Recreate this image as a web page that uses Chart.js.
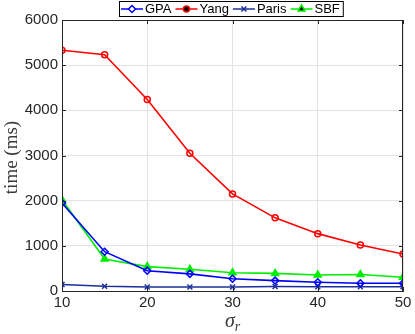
<!DOCTYPE html>
<html>
<head>
<meta charset="utf-8">
<script src="https://cdn.jsdelivr.net/npm/chart.js@4"></script>
<style>
  html, body { margin: 0; padding: 0; background: #fff; }
  #wrap { width: 415px; height: 334px; }
</style>
</head>
<body>
<div id="wrap"><canvas id="chart" width="415" height="334"></canvas></div>
<script>
const sigma = [10, 15, 20, 25, 30, 35, 40, 45, 50];
const gpa   = [1950, 870, 450, 380, 270, 230, 195, 170, 170];
const yang  = [5330, 5230, 4240, 3050, 2150, 1620, 1270, 1020, 820];
const paris = [145, 105, 90, 90, 90, 100, 95, 95, 95];
const sbf   = [2020, 710, 540, 480, 405, 390, 355, 365, 305];
const yTicks = [0, 1000, 2000, 3000, 4000, 5000, 6000];
const xTicks = [10, 20, 30, 40, 50];

const axisColor = "#262626";
const toPoints = (vals) => vals.map((v, i) => ({ x: sigma[i], y: v }));

const series = [
	{ label: "GPA", data: gpa, color: "#0000ff", style: "rectRot", radius: 3.5, fill: false },
	{ label: "Yang", data: yang, color: "#ff0000", style: "circle", radius: 3, fill: false },
	{ label: "Paris", data: paris, color: "#1c2f9c", style: "crossRot", radius: 3.5, fill: false },
	{ label: "SBF", data: sbf, color: "#00ee00", style: "triangle", radius: 4, fill: true },
];

// frame, inward ticks, axis labels and the legend box
const decorations = {
	id: "decorations",
	afterDraw(chart) {
		const ctx = chart.ctx;
		const a = chart.chartArea;
		const xs = chart.scales.x, ys = chart.scales.y;
		ctx.save();
		ctx.strokeStyle = axisColor;
		ctx.lineWidth = 1;
		ctx.strokeRect(a.left + 0.5, a.top + 0.5, a.right - a.left - 1, a.bottom - a.top);
		ctx.beginPath();
		yTicks.forEach((t) => {
			const y = Math.round(ys.getPixelForValue(t)) + 0.5;
			ctx.moveTo(a.left, y); ctx.lineTo(a.left + 4, y);
			ctx.moveTo(a.right, y); ctx.lineTo(a.right - 4, y);
		});
		xTicks.forEach((t) => {
			const x = Math.round(xs.getPixelForValue(t)) + 0.5;
			ctx.moveTo(x, a.bottom); ctx.lineTo(x, a.bottom - 4);
			ctx.moveTo(x, a.top); ctx.lineTo(x, a.top + 4);
		});
		ctx.stroke();

		// y title
		ctx.fillStyle = "#3a3a3a";
		ctx.font = "19px 'Liberation Serif'";
		ctx.textAlign = "center";
		ctx.textBaseline = "middle";
		ctx.translate(12, (a.top + a.bottom) / 2 + 2);
		ctx.rotate(-Math.PI / 2);
		ctx.fillText("time (ms)", 0, 0);
		ctx.setTransform(1, 0, 0, 1, 0, 0);

		// x title: sigma with subscript r
		ctx.textAlign = "left";
		ctx.textBaseline = "alphabetic";
		ctx.font = "italic 20px 'Liberation Serif'";
		ctx.fillText("σ", 225, 327);
		const sw = ctx.measureText("σ").width;
		ctx.font = "italic 14px 'Liberation Serif'";
		ctx.fillText("r", 225 + sw, 331);

		// legend
		ctx.font = "13px 'Liberation Sans'";
		ctx.textBaseline = "middle";
		const lineLen = 22, boxL = 119, boxT = 1, boxH = 15;
		let x = boxL + 2;
		const cy = boxT + boxH / 2 + 0.5;
		const entries = [];
		chart.data.datasets.forEach((ds) => {
			entries.push({ ds, x });
			x += lineLen + 2 + ctx.measureText(ds.label).width + 4;
		});
		ctx.fillStyle = "#fff";
		ctx.fillRect(boxL, boxT, x - boxL, boxH);
		ctx.strokeStyle = "#000";
		ctx.strokeRect(boxL + 0.5, boxT + 0.5, x - boxL - 1, boxH);
		entries.forEach(({ ds, x }) => {
			ctx.strokeStyle = ds.borderColor;
			ctx.lineWidth = 1.5;
			ctx.beginPath();
			ctx.moveTo(x, cy); ctx.lineTo(x + lineLen, cy);
			ctx.stroke();
			Chart.helpers.drawPoint(ctx, {
				pointStyle: ds.pointStyle,
				radius: ds.pointRadius,
				borderWidth: 1.5,
				rotation: 0,
			}, x + lineLen / 2, cy);
			ctx.fillStyle = "#000";
			ctx.fillText(ds.label, x + lineLen + 2, cy + 0.5);
		});
		ctx.restore();
	},
};

new Chart(document.getElementById("chart").getContext("2d"), {
	type: "line",
	data: {
		datasets: series.map((s) => ({
			label: s.label,
			data: toPoints(s.data),
			borderColor: s.color,
			backgroundColor: s.color,
			pointBackgroundColor: s.fill ? s.color : "rgba(0,0,0,0)",
			pointBorderColor: s.color,
			pointStyle: s.style,
			pointRadius: s.radius,
			pointBorderWidth: 1.5,
			borderWidth: 1.6,
			tension: 0,
			fill: false,
		})),
	},
	options: {
		responsive: false,
		animation: false,
		layout: { padding: { top: 20, right: 12, left: 0, bottom: 0 } },
		plugins: { legend: { display: false }, tooltip: { enabled: false } },
		scales: {
			x: {
				type: "linear",
				min: 10,
				max: 50,
				afterBuildTicks: (s) => { s.ticks = xTicks.map((v) => ({ value: v })); },
				afterFit: (s) => { s.height = 43; },
				ticks: { color: axisColor, font: { size: 15, family: "'Liberation Sans'" }, padding: 3, maxRotation: 0, callback: (v) => String(v) },
				grid: { color: "#e3e3e3", drawTicks: false },
				border: { color: axisColor },
			},
			y: {
				min: 0,
				max: 6000,
				afterBuildTicks: (s) => { s.ticks = yTicks.map((v) => ({ value: v })); },
				afterFit: (s) => { s.width = 62; },
				ticks: { color: axisColor, font: { size: 15, family: "'Liberation Sans'" }, padding: 4, callback: (v) => String(v) },
				grid: { color: "#e3e3e3", drawTicks: false },
				border: { color: axisColor },
			},
		},
	},
	plugins: [decorations],
});
</script>
</body>
</html>
